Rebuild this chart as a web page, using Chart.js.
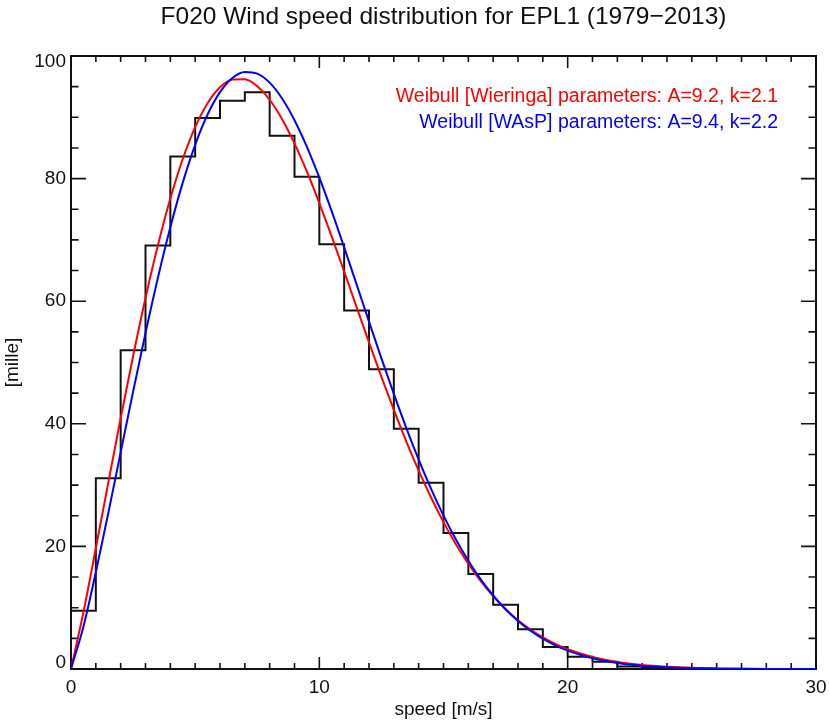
<!DOCTYPE html>
<html>
<head>
<meta charset="utf-8">
<script src="https://cdn.jsdelivr.net/npm/chart.js@4.4.1/dist/chart.umd.min.js"></script>
<style>
  html, body { margin: 0; padding: 0; background: #fff; }
  #wrap { width: 830px; height: 724px; }
</style>
</head>
<body>
<div id="wrap"><canvas id="chart" width="830" height="724"></canvas></div>
<script>
// histogram, one value per 1 m/s bin starting at 0
const binStart = 0;
const binValues = [9.5, 31.1, 52.0, 69.1, 83.6, 89.9, 92.7, 94.1, 87.0, 80.3,
                   69.3, 58.5, 48.9, 39.2, 30.4, 22.2, 15.5, 10.5, 6.5, 3.6,
                   2.0, 1.2, 0.4, 0.2, 0.1, 0.05, 0.02, 0.01, 0.0, 0.0];

// curve samples
const curveSpeed = [0, 0.5, 1, 1.5, 2, 2.5, 3, 3.5, 4, 4.5, 5, 5.5, 6, 6.5, 7, 7.5, 8, 8.5, 9, 9.5,
                    10, 10.5, 11, 11.5, 12, 12.5, 13, 13.5, 14, 14.5, 15, 15.5, 16, 16.5, 17, 17.5,
                    18, 18.5, 19, 19.5, 20, 21, 22, 23, 24, 25, 26, 27, 28, 29, 30];
const wieringa = [0, 9.25, 19.69, 30.37, 40.91, 51.03, 60.51, 69.12, 76.74, 83.19, 88.40, 92.30, 94.90, 96.18, 96.21, 95.08, 92.86, 89.70, 85.75, 81.13,
                  76.01, 70.53, 64.83, 59.04, 53.28, 47.66, 42.26, 37.14, 32.36, 27.97, 23.96, 20.36, 17.16, 14.34, 11.88, 9.76,
                  7.96, 6.44, 5.17, 4.11, 3.24, 1.97, 1.16, 0.66, 0.37, 0.19, 0.10, 0.05, 0.02, 0.01, 0.005];
const wasp = [0, 6.91, 15.79, 25.42, 35.34, 45.23, 54.81, 63.83, 72.06, 79.34, 85.51, 90.45, 94.10, 96.41, 97.41, 97.13, 95.65, 93.07, 89.53, 85.17,
              80.15, 74.64, 68.78, 62.75, 56.67, 50.68, 44.87, 39.35, 34.17, 29.39, 25.03, 21.13, 17.67, 14.62, 11.99, 9.74,
              7.84, 6.25, 4.94, 3.86, 2.99, 1.75, 0.98, 0.53, 0.27, 0.13, 0.06, 0.03, 0.01, 0.005, 0.002];

const xTicks = [0, 10, 20, 30];
const yTicks = [0, 20, 40, 60, 80, 100];

const titleText = 'F020 Wind speed distribution for EPL1 (1979\u22122013)';
const legendRed = 'Weibull [Wieringa] parameters: A=9.2, k=2.1';
const legendBlue = 'Weibull [WAsP] parameters: A=9.4, k=2.2';

const FONT = '"Liberation Sans", Arial, Helvetica, sans-serif';

// step outline of the histogram
const histPts = [];
binValues.forEach((v, i) => {
    histPts.push({ x: binStart + i, y: v });
    histPts.push({ x: binStart + i + 1, y: v });
});

const toXY = (xs, ys) => xs.map((x, i) => ({ x: x, y: ys[i] }));

// IDL-like frame: box, inward ticks on all sides, labels
const framePlugin = {
    id: 'frame',
    beforeDatasetsDraw(chart) {
        const ctx = chart.ctx;
        const a = chart.chartArea;
        const xs = chart.scales.x, ys = chart.scales.y;
        ctx.save();
        ctx.strokeStyle = '#111';
        ctx.lineWidth = 2;
        ctx.strokeRect(a.left, a.top, a.right - a.left, a.bottom - a.top);

        ctx.lineWidth = 1.6;
        ctx.beginPath();
        for (let v = 0; v <= 30; v++) {
            const px = xs.getPixelForValue(v);
            const len = (v % 10 === 0) ? 12 : 6;
            ctx.moveTo(px, a.bottom); ctx.lineTo(px, a.bottom - len);
            ctx.moveTo(px, a.top); ctx.lineTo(px, a.top + len);
        }
        for (let v = 0; v <= 100; v += 5) {
            const py = ys.getPixelForValue(v);
            const len = (v % 20 === 0) ? 15 : 7.5;
            ctx.moveTo(a.left, py); ctx.lineTo(a.left + len, py);
            ctx.moveTo(a.right, py); ctx.lineTo(a.right - len, py);
        }
        ctx.stroke();
        ctx.restore();
    },
    afterDraw(chart) {
        const ctx = chart.ctx;
        const a = chart.chartArea;
        const xs = chart.scales.x, ys = chart.scales.y;
        const midX = (a.left + a.right) / 2;
        ctx.save();
        ctx.fillStyle = '#111';
        ctx.font = '19px ' + FONT;
        ctx.textAlign = 'center';
        ctx.textBaseline = 'middle';
        xTicks.forEach(v => ctx.fillText(String(v), xs.getPixelForValue(v), a.bottom + 19));
        ctx.textAlign = 'right';
        yTicks.forEach(v => {
            let py = ys.getPixelForValue(v);
            if (v === 100) py += 6;
            if (v === 0) py -= 6;
            ctx.fillText(String(v), a.left - 5, py);
        });
        ctx.textAlign = 'center';
        ctx.fillText('speed [m/s]', midX, a.bottom + 41);
        ctx.save();
        ctx.translate(13, (a.top + a.bottom) / 2);
        ctx.rotate(-Math.PI / 2);
        ctx.fillText('[mille]', 0, 0);
        ctx.restore();

        ctx.font = '24.5px ' + FONT;
        ctx.fillText(titleText, midX, 17);

        ctx.font = '19.5px ' + FONT;
        ctx.textAlign = 'right';
        ctx.fillStyle = '#ff0000';
        ctx.fillText(legendRed, 778, 97);
        ctx.fillStyle = '#0000ff';
        ctx.fillText(legendBlue, 778, 123);
        ctx.restore();
    }
};

new Chart(document.getElementById('chart').getContext('2d'), {
    type: 'line',
    data: {
        datasets: [
            {
                label: 'WAsP',
                data: toXY(curveSpeed, wasp),
                borderColor: '#0000ff',
                borderWidth: 2,
                pointRadius: 0,
                cubicInterpolationMode: 'monotone',
                order: 1
            },
            {
                label: 'Wieringa',
                data: toXY(curveSpeed, wieringa),
                borderColor: '#ff0000',
                borderWidth: 2,
                pointRadius: 0,
                cubicInterpolationMode: 'monotone',
                order: 2
            },
            {
                label: 'histogram',
                data: histPts,
                borderColor: '#111111',
                borderWidth: 2,
                pointRadius: 0,
                tension: 0,
                order: 3
            }
        ]
    },
    options: {
        responsive: false,
        animation: false,
        devicePixelRatio: 1,
        layout: { padding: { left: 71, right: 14, top: 56, bottom: 55 } },
        plugins: {
            legend: { display: false },
            tooltip: { enabled: false }
        },
        scales: {
            x: { type: 'linear', min: 0, max: 30, display: false },
            y: { type: 'linear', min: 0, max: 100, display: false }
        }
    },
    plugins: [framePlugin]
});
</script>
</body>
</html>
